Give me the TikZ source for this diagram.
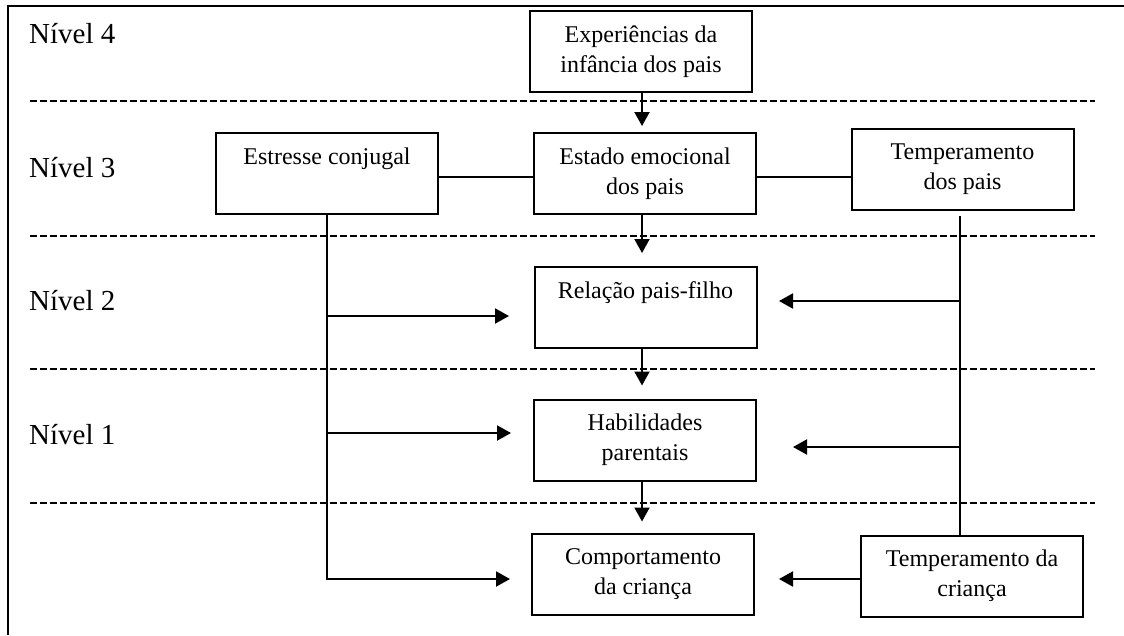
\documentclass[tikz,border=0pt]{standalone}
\usepackage{fontspec}
\setmainfont{Liberation Serif}
\usetikzlibrary{arrows.meta}
\tikzset{
  boxnode/.style={draw, line width=2pt, minimum width=222pt, minimum height=81pt,
    inner sep=0pt, align=center, font=\fontsize{24}{30}\selectfont},
  levellabel/.style={anchor=base west, inner sep=0pt, font=\fontsize{29}{35}\selectfont},
  conn/.style={line width=2pt},
  arr/.style={line width=2pt, -{Triangle[length=14pt,width=15pt]}},
  levelsep/.style={line width=1.3pt, dash pattern=on 7pt off 3pt},
  frameline/.style={line width=2pt}
}
\begin{document}
\begin{tikzpicture}[x=1pt,y=-1pt]
\useasboundingbox (0,0) rectangle (1124,635);
% frame
\coordinate (fl) at (8,635);
\coordinate (ft) at (8,6);
\coordinate (fr) at (1124,6);
\draw[frameline] (fl) -- (ft) -- (fr);
% level separators
\draw[levelsep] (30,101) -- (1095,101);
\draw[levelsep] (30,236) -- (1095,236);
\draw[levelsep] (30,369) -- (1095,369);
\draw[levelsep] (30,503) -- (1095,503);
% level labels
\node[levellabel] (n4) at (29,43) {Nível 4};
\node[levellabel] (n3) at (29,177) {Nível 3};
\node[levellabel] (n2) at (29,310) {Nível 2};
\node[levellabel] (n1) at (29,444) {Nível 1};
% boxes
\node[boxnode] (exp) at (641,51.5) {Experiências da\\infância dos pais};
\node[boxnode] (est) at (645,173.5) {Estado emocional\\dos pais};
\node[boxnode] (str) at (327,173.5) {Estresse conjugal\\\phantom{p}};
\node[boxnode] (tp) at (962.5,169.5) {Temperamento\\dos pais};
\node[boxnode] (rel) at (645.5,307.5) {Relação pais-filho\\\phantom{p}};
\node[boxnode] (hab) at (645,440) {Habilidades\\parentais};
\node[boxnode] (comp) at (643,574) {Comportamento\\da criança};
\node[boxnode] (tc) at (972,576) {Temperamento da\\criança};
% central spine
\coordinate (sx) at (642,0);
\draw[arr] (sx |- exp.south) -- ([yshift=6pt]sx |- est.north);
\draw[arr] (sx |- est.south) -- ([yshift=13pt]sx |- rel.north);
\draw[arr] (sx |- rel.south) -- ([yshift=13pt]sx |- hab.north);
\draw[arr] (sx |- hab.south) -- ([yshift=11pt]sx |- comp.north);
% level 3 links
\coordinate (h3) at (0,177);
\draw[conn] (str.east |- h3) -- (est.west |- h3);
\draw[conn] (est.east |- h3) -- (tp.west |- h3);
% left branch (Estresse conjugal)
\coordinate (aR2) at (509,316);
\coordinate (aR1) at (511,433);
\coordinate (aR0) at (510,579);
\draw[arr] (str.south) |- (aR0);
\draw[arr] (str.south |- aR2) -- (aR2);
\draw[arr] (str.south |- aR1) -- (aR1);
% right branch (Temperamento dos pais)
\coordinate (vx) at (960,0);
\draw[conn] ([yshift=-5pt]vx |- tp.south) -- (vx |- tc.north);
\coordinate (bR2) at (779,301);
\coordinate (bR1) at (793,447);
\coordinate (bR0) at (779,579);
\draw[arr] (vx |- bR2) -- (bR2);
\draw[arr] (vx |- bR1) -- (bR1);
\draw[arr] (tc.west |- bR0) -- (bR0);
\end{tikzpicture}
\end{document}
